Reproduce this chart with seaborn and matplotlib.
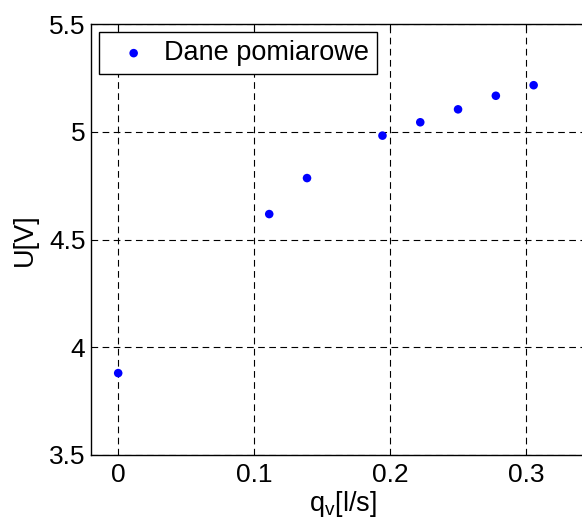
import matplotlib
matplotlib.use("Agg")
import matplotlib.pyplot as plt
import pandas as pd
import seaborn as sns

# dane pomiarowe: przepływ q_v [l/s] i napięcie U [V]
flow_lps = [0.0, 0.1111, 0.1389, 0.1944, 0.2222, 0.2500, 0.2778, 0.3056]
voltage_v = [3.880, 4.618, 4.785, 4.982, 5.044, 5.104, 5.167, 5.216]

x_ticks = [0, 0.1, 0.2, 0.3]
x_tick_labels = ["0", "0.1", "0.2", "0.3"]
y_ticks = [3.5, 4.0, 4.5, 5.0, 5.5]
y_tick_labels = ["3.5", "4", "4.5", "5", "5.5"]

sns.set_style("white")
plt.rcParams["font.family"] = ["Liberation Sans", "DejaVu Sans"]
plt.rcParams["mathtext.fontset"] = "custom"
plt.rcParams["mathtext.rm"] = "Liberation Sans"
plt.rcParams["text.color"] = "black"
plt.rcParams["axes.labelcolor"] = "black"

df = pd.DataFrame({"q": flow_lps, "U": voltage_v})

fig = plt.figure(figsize=(5.82, 5.21), dpi=100)
W, H = 582, 521
# prawa krawędź osi wychodzi poza obrazek (jak w oryginale)
ax = fig.add_axes([91 / W, (H - 455) / H, (594 - 91) / W, (455 - 24) / H])

sns.scatterplot(data=df, x="q", y="U", ax=ax, color="#0000ff", s=38,
                edgecolor="none", label="Dane pomiarowe", zorder=3)

ax.set_xlim(-0.02, 0.35)
ax.set_ylim(3.5, 5.5)
ax.set_xticks(x_ticks)
ax.set_xticklabels(x_tick_labels)
ax.set_yticks(y_ticks)
ax.set_yticklabels(y_tick_labels)
ax.tick_params(direction="in", length=4, width=0.8, top=True, right=True,
               labelsize=19, colors="black")
ax.tick_params(axis="x", pad=6)
ax.tick_params(axis="y", pad=4)

ax.grid(True, color="black", linestyle=(0, (6, 4)), linewidth=0.8)
for side in ax.spines.values():
    side.set_color("black")
    side.set_linewidth(1.0)

ax.set_xlabel("q$_\\mathrm{v}$[l/s]", fontsize=19.5, labelpad=1.5)
ax.set_ylabel("U[V]", fontsize=19.5, labelpad=8)

leg = ax.legend(loc="upper left", fontsize=19.5, frameon=True, fancybox=False,
                borderaxespad=0.3, borderpad=0.3, handlelength=1.95,
                handletextpad=0.15, markerscale=1.0)
leg.get_frame().set_edgecolor("black")
leg.get_frame().set_linewidth(1.0)
leg.get_frame().set_alpha(1)

fig.savefig("out.png", dpi=100)
plt.close(fig)
